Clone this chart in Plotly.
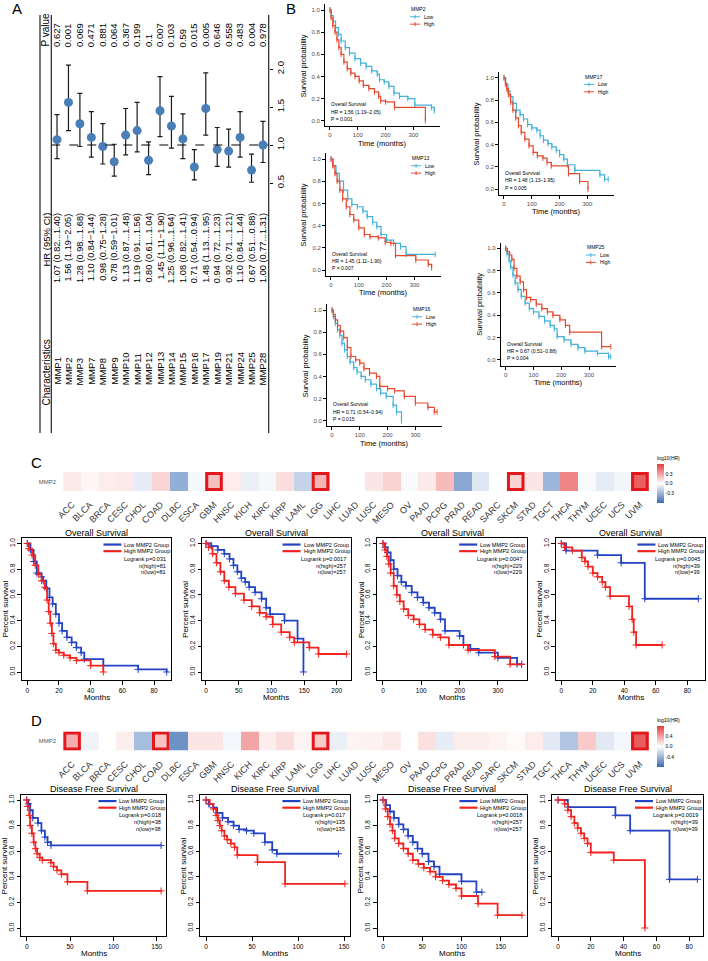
import plotly.graph_objects as go

W, H = 708, 961
FONT = "Liberation Sans, Arial, sans-serif"

# ---------------------------------------------------------------
# Panel A: univariate Cox forest plot (drawn rotated)
# ---------------------------------------------------------------
genes = ["MMP1", "MMP2", "MMP3", "MMP7", "MMP8", "MMP9", "MMP10", "MMP11", "MMP12", "MMP13",
         "MMP14", "MMP15", "MMP16", "MMP17", "MMP19", "MMP21", "MMP24", "MMP25", "MMP28"]
hr = [1.07, 1.56, 1.28, 1.10, 0.98, 0.78, 1.13, 1.19, 0.80, 1.45,
      1.25, 1.08, 0.71, 1.48, 0.94, 0.92, 1.10, 0.67, 1.00]
hr_lo = [0.82, 1.19, 0.98, 0.84, 0.75, 0.59, 0.87, 0.91, 0.61, 1.11,
         0.96, 0.82, 0.54, 1.13, 0.72, 0.71, 0.84, 0.51, 0.77]
hr_hi = [1.40, 2.05, 1.68, 1.44, 1.28, 1.01, 1.48, 1.56, 1.04, 1.90,
         1.64, 1.41, 0.94, 1.95, 1.23, 1.21, 1.44, 0.88, 1.31]
ci_sep = ["...", "−", "...", "−", "−", "−", "...", "...", "...", "−",
          "...", "...", "...", "...", "...", "...", "...", "...", "..."]
p_values = ["0.627", "0.001", "0.069", "0.471", "0.881", "0.064", "0.367", "0.199", "0.1", "0.007",
            "0.103", "0.59", "0.015", "0.005", "0.646", "0.558", "0.483", "0.004", "0.978"]
hr_ticks = [0.5, 1.0, 1.5, 2.0]

# ---------------------------------------------------------------
# Panel B: KM curves (months, survival probability)
# ---------------------------------------------------------------
mmp2_low_t = [0, 5, 12, 20, 30, 40, 55, 70, 90, 110, 130, 150, 170, 178, 195, 212, 230, 250, 280, 305, 365, 375]
mmp2_low_s = [1.0, 0.95, 0.90, 0.84, 0.78, 0.72, 0.66, 0.61, 0.56, 0.52, 0.49, 0.45, 0.42, 0.37, 0.35, 0.31, 0.25, 0.22, 0.20, 0.14, 0.12, 0.09]
mmp2_high_t = [0, 4, 10, 18, 25, 32, 40, 50, 62, 75, 90, 105, 120, 140, 160, 175, 182, 200, 232, 343]
mmp2_high_s = [1.0, 0.93, 0.86, 0.80, 0.73, 0.66, 0.60, 0.53, 0.47, 0.43, 0.40, 0.36, 0.32, 0.29, 0.26, 0.22, 0.18, 0.17, 0.12, 0.0]

mmp13_low_t = [0, 8, 18, 30, 45, 60, 75, 95, 115, 130, 150, 165, 180, 200, 225, 250, 270, 375]
mmp13_low_s = [1.0, 0.94, 0.87, 0.80, 0.72, 0.64, 0.59, 0.57, 0.53, 0.48, 0.43, 0.39, 0.32, 0.27, 0.24, 0.21, 0.14, 0.14]
mmp13_high_t = [0, 6, 14, 22, 32, 42, 55, 68, 82, 100, 120, 140, 170, 195, 215, 232, 305, 350, 362]
mmp13_high_s = [1.0, 0.94, 0.87, 0.80, 0.72, 0.64, 0.57, 0.50, 0.45, 0.38, 0.32, 0.30, 0.29, 0.25, 0.24, 0.13, 0.09, 0.05, 0.02]

mmp16_low_t = [0, 5, 12, 20, 28, 36, 45, 55, 65, 78, 90, 105, 120, 140, 160, 175, 195, 220, 232, 250]
mmp16_low_s = [1.0, 0.94, 0.88, 0.82, 0.77, 0.70, 0.64, 0.58, 0.53, 0.48, 0.44, 0.40, 0.37, 0.33, 0.29, 0.25, 0.22, 0.14, 0.08, 0.0]
mmp16_high_t = [0, 5, 12, 20, 30, 42, 55, 68, 85, 100, 115, 135, 160, 172, 200, 225, 260, 300, 345, 368, 378]
mmp16_high_s = [1.0, 0.96, 0.91, 0.86, 0.81, 0.75, 0.66, 0.58, 0.55, 0.52, 0.47, 0.43, 0.40, 0.31, 0.29, 0.27, 0.22, 0.16, 0.12, 0.08, 0.08]

mmp17_low_t = [0, 6, 14, 22, 32, 45, 58, 70, 85, 100, 118, 130, 142, 158, 172, 188, 200, 215, 228, 255, 345, 362, 375]
mmp17_low_s = [1.0, 0.94, 0.88, 0.83, 0.77, 0.71, 0.67, 0.63, 0.58, 0.55, 0.53, 0.48, 0.44, 0.41, 0.38, 0.35, 0.31, 0.27, 0.22, 0.17, 0.13, 0.09, 0.09]
mmp17_high_t = [0, 5, 10, 16, 24, 32, 42, 52, 62, 75, 90, 105, 120, 140, 155, 170, 232, 272, 302]
mmp17_high_s = [1.0, 0.95, 0.90, 0.85, 0.78, 0.71, 0.64, 0.57, 0.51, 0.45, 0.39, 0.33, 0.30, 0.28, 0.24, 0.21, 0.14, 0.07, 0.0]

mmp25_low_t = [0, 5, 12, 18, 26, 34, 44, 56, 70, 85, 100, 120, 140, 160, 175, 185, 210, 235, 260, 285, 330, 370, 378]
mmp25_low_s = [1.0, 0.95, 0.89, 0.83, 0.76, 0.69, 0.63, 0.57, 0.51, 0.46, 0.43, 0.39, 0.35, 0.31, 0.28, 0.21, 0.18, 0.14, 0.11, 0.08, 0.06, 0.03, 0.03]
mmp25_high_t = [0, 6, 14, 22, 30, 40, 52, 64, 75, 90, 110, 130, 150, 170, 195, 215, 230, 345, 378]
mmp25_high_s = [1.0, 0.97, 0.94, 0.90, 0.82, 0.75, 0.70, 0.63, 0.56, 0.54, 0.50, 0.46, 0.43, 0.40, 0.36, 0.31, 0.25, 0.12, 0.12]

# ---------------------------------------------------------------
# Panels C / D: pan-cancer heatmaps of log10(HR) for MMP2
# ---------------------------------------------------------------
cancers = ["ACC", "BLCA", "BRCA", "CESC", "CHOL", "COAD", "DLBC", "ESCA", "GBM", "HNSC", "KICH",
           "KIRC", "KIRP", "LAML", "LGG", "LIHC", "LUAD", "LUSC", "MESO", "OV", "PAAD", "PCPG",
           "PRAD", "READ", "SARC", "SKCM", "STAD", "TGCT", "THCA", "THYM", "UCEC", "UCS", "UVM"]
os_log10hr = [0.07, 0.03, 0.06, 0.07, -0.08, 0.13, -0.33, -0.03, 0.20, 0.06, -0.06,
              -0.03, 0.10, -0.18, 0.24, 0.0, 0.0, 0.08, 0.14, -0.02, 0.07, 0.21,
              -0.36, -0.10, 0.0, 0.14, 0.08, -0.30, 0.38, -0.02, -0.08, -0.04, 0.50]
dfs_log10hr = [0.34, -0.06, 0.0, 0.07, -0.36, 0.25, -0.60, 0.11, 0.11, -0.05, 0.38,
               0.07, 0.14, 0.05, 0.22, -0.08, 0.05, 0.06, 0.09, 0.0, 0.13, -0.10,
               0.07, 0.07, 0.05, 0.02, 0.08, -0.12, -0.32, 0.22, -0.12, -0.05, 0.68]
os_significant = ["GBM", "LGG", "SKCM", "UVM"]
dfs_significant = ["ACC", "COAD", "LGG", "UVM"]

# GEPIA overall survival curves (C)
os_gbm_low_t = [0, 2, 4, 6, 9, 10, 12, 14, 16, 18, 20, 22, 25, 28, 31, 34, 36, 48, 70, 88]
os_gbm_low_s = [1.0, 0.95, 0.86, 0.77, 0.74, 0.71, 0.65, 0.58, 0.53, 0.45, 0.38, 0.32, 0.27, 0.23, 0.19, 0.15, 0.10, 0.05, 0.02, 0.0]
os_gbm_high_t = [0, 1, 3, 5, 7, 9, 11, 12.5, 13.5, 14.5, 15.5, 16.5, 18, 20, 23, 27, 31, 40, 48]
os_gbm_high_s = [1.0, 0.96, 0.91, 0.83, 0.76, 0.71, 0.66, 0.56, 0.47, 0.38, 0.30, 0.22, 0.17, 0.15, 0.13, 0.11, 0.09, 0.05, 0.0]

os_lgg_low_t = [0, 8, 18, 28, 36, 42, 48, 54, 60, 66, 75, 85, 92, 98, 120, 140, 149]
os_lgg_low_s = [1.0, 0.98, 0.95, 0.92, 0.88, 0.83, 0.78, 0.73, 0.70, 0.66, 0.62, 0.57, 0.50, 0.45, 0.40, 0.26, 0.0]
os_lgg_high_t = [0, 4, 10, 16, 22, 28, 35, 45, 58, 70, 82, 92, 102, 115, 128, 135, 158, 172, 215]
os_lgg_high_s = [1.0, 0.97, 0.92, 0.85, 0.78, 0.71, 0.66, 0.61, 0.56, 0.51, 0.46, 0.43, 0.37, 0.31, 0.27, 0.23, 0.19, 0.14, 0.14]

os_skcm_low_t = [0, 6, 12, 20, 28, 38, 48, 60, 75, 90, 105, 120, 135, 150, 162, 200, 210, 228, 250, 300, 350, 362]
os_skcm_low_s = [1.0, 0.97, 0.93, 0.87, 0.80, 0.75, 0.70, 0.67, 0.62, 0.58, 0.54, 0.50, 0.46, 0.41, 0.32, 0.28, 0.21, 0.18, 0.15, 0.11, 0.06, 0.06]
os_skcm_high_t = [0, 5, 10, 15, 20, 28, 36, 44, 54, 66, 80, 95, 110, 130, 150, 172, 222, 292, 332, 362]
os_skcm_high_s = [1.0, 0.95, 0.90, 0.84, 0.77, 0.67, 0.60, 0.55, 0.49, 0.44, 0.41, 0.37, 0.33, 0.29, 0.27, 0.21, 0.17, 0.12, 0.06, 0.06]

os_uvm_low_t = [0, 3, 23, 38, 53, 87]
os_uvm_low_s = [1.0, 0.945, 0.91, 0.85, 0.57, 0.57]
os_uvm_high_t = [0, 2, 7, 13, 15, 17, 20, 23, 26, 28, 31, 43, 45, 46, 47.5, 64]
os_uvm_high_s = [1.0, 0.97, 0.945, 0.89, 0.86, 0.82, 0.77, 0.74, 0.70, 0.66, 0.59, 0.51, 0.41, 0.31, 0.21, 0.21]

# GEPIA disease free survival curves (D)
dfs_acc_low_t = [0, 2, 4, 7, 13, 17, 21, 24, 28, 155]
dfs_acc_low_s = [1.0, 0.97, 0.92, 0.86, 0.82, 0.76, 0.71, 0.67, 0.645, 0.645]
dfs_acc_high_t = [0, 1, 3, 4, 6, 8, 10, 12, 15, 18, 28, 31, 35, 40, 47, 70, 155]
dfs_acc_high_s = [1.0, 0.95, 0.88, 0.80, 0.74, 0.67, 0.62, 0.58, 0.55, 0.53, 0.51, 0.48, 0.45, 0.42, 0.36, 0.29, 0.29]

dfs_coad_low_t = [0, 3, 8, 12, 18, 24, 30, 36, 44, 52, 64, 72, 77, 144]
dfs_coad_low_s = [1.0, 0.97, 0.94, 0.90, 0.86, 0.83, 0.80, 0.77, 0.76, 0.74, 0.67, 0.61, 0.58, 0.58]
dfs_coad_high_t = [0, 4, 8, 11, 13, 15, 17, 20, 23, 27, 31, 34, 56, 86, 151]
dfs_coad_high_s = [1.0, 0.97, 0.93, 0.88, 0.84, 0.80, 0.76, 0.72, 0.69, 0.66, 0.63, 0.57, 0.515, 0.345, 0.345]

dfs_lgg_low_t = [0, 4, 9, 14, 20, 26, 32, 38, 44, 50, 58, 65, 72, 100, 119, 126]
dfs_lgg_low_s = [1.0, 0.96, 0.91, 0.86, 0.81, 0.77, 0.72, 0.67, 0.62, 0.58, 0.52, 0.48, 0.42, 0.365, 0.28, 0.28]
dfs_lgg_high_t = [0, 3, 6, 9, 12, 15, 20, 26, 32, 38, 45, 52, 60, 67, 76, 84, 93, 100, 121, 146, 177]
dfs_lgg_high_s = [1.0, 0.93, 0.87, 0.81, 0.76, 0.70, 0.66, 0.62, 0.58, 0.53, 0.50, 0.47, 0.44, 0.40, 0.37, 0.34, 0.31, 0.25, 0.19, 0.10, 0.10]

dfs_uvm_low_t = [0, 6, 35, 44, 68, 85]
dfs_uvm_low_s = [1.0, 0.945, 0.88, 0.76, 0.38, 0.38]
dfs_uvm_high_t = [0, 4, 6, 8, 10, 12, 14, 16, 18, 20, 34, 53]
dfs_uvm_high_s = [1.0, 0.97, 0.92, 0.87, 0.82, 0.78, 0.74, 0.70, 0.66, 0.59, 0.53, 0.0]


# ---------------------------------------------------------------
# helpers (positions in pixels of the 708x961 page)
# ---------------------------------------------------------------
layout = dict(width=W, height=H, margin=dict(l=0, r=0, t=0, b=0), template="none",
              paper_bgcolor="white", plot_bgcolor="rgba(0,0,0,0)", showlegend=False,
              font=dict(family=FONT, color="black"))
annotations = []
shapes = []
traces = []
n_axes = [0]


def new_axes(left, top, right, bottom, xr, yr, xstyle=None, ystyle=None):
    n_axes[0] += 1
    s = "" if n_axes[0] == 1 else str(n_axes[0])
    xa = dict(domain=[left / W, right / W], range=xr, anchor="y" + s, showgrid=False,
              zeroline=False, automargin=False)
    ya = dict(domain=[1 - bottom / H, 1 - top / H], range=yr, anchor="x" + s, showgrid=False,
              zeroline=False, automargin=False)
    xa.update(xstyle or {})
    ya.update(ystyle or {})
    layout["xaxis" + s] = xa
    layout["yaxis" + s] = ya
    return "x" + s, "y" + s


def label(x, y, txt, size, xanchor="left", yanchor="middle", angle=0, color="black",
          xref="paper", yref="paper"):
    annotations.append(dict(
        x=x / W if xref == "paper" else x, y=1 - y / H if yref == "paper" else y,
        xref=xref, yref=yref, text=txt, showarrow=False, xanchor=xanchor, yanchor=yanchor,
        textangle=angle, borderpad=0, font=dict(size=size, color=color, family=FONT)))


def seg(x0, y0, x1, y1, color, width, dash=None):
    shapes.append(dict(type="line", xref="paper", yref="paper", x0=x0 / W, x1=x1 / W,
                       y0=1 - y0 / H, y1=1 - y1 / H, line=dict(color=color, width=width, dash=dash)))


# ---------------------------------------------------------------
# A) forest plot
# ---------------------------------------------------------------
fx, fy = new_axes(51.3, 40, 268.7, 205, [-0.5, len(genes) - 0.5], [0.2105, 2.3816],
                  dict(visible=False),
                  dict(side="right", tickvals=hr_ticks, ticktext=["%.1f" % v for v in hr_ticks],
                       ticks="outside", ticklen=3, tickcolor="black", tickangle=-90,
                       tickfont=dict(size=9.5), showline=False))
traces.append(go.Scatter(
    x=list(range(len(genes))), y=hr, xaxis=fx, yaxis=fy, mode="markers",
    marker=dict(color="#4A7EB6", size=9),
    error_y=dict(type="data", symmetric=False,
                 array=[h - m for h, m in zip(hr_hi, hr)],
                 arrayminus=[m - l for m, l in zip(hr, hr_lo)],
                 color="#1a1a1a", thickness=1.2, width=2.5)))
shapes.append(dict(type="line", xref=fx + " domain", yref=fy, x0=0, x1=1, y0=1, y1=1,
                   line=dict(color="black", width=1.1, dash="dash")))
for xline in (40, 51.3, 268.7):
    seg(xline, 15, xline, 433, "#222", 1.2)

label(45.5, 48, "P value", 10, "center", "bottom", -90)
label(45.5, 212, "HR (95% CI)", 9.5, "center", "top", -90)
label(45.5, 407, "Characteristics", 10, "center", "bottom", -90)
for i, g in enumerate(genes):
    label(i, 48, p_values[i], 9.5, "center", "bottom", -90, xref=fx)
    ci = "%.2f (%.2f%s%.2f)" % (hr[i], hr_lo[i], ci_sep[i], hr_hi[i])
    label(i, 212, ci, 9.2, "center", "top", -90, xref=fx)
    label(i, 386, g, 9.5, "center", "bottom", -90, xref=fx)

# ---------------------------------------------------------------
# B) ggplot style KM plots
# ---------------------------------------------------------------
B_LOW, B_HIGH = "#41B2D9", "#E84A30"


def km_ggplot(x0, y1, y0, gene, low_t, low_s, high_t, high_s, hr_txt, p_txt):
    sx, sy = 0.278, y0 - y1
    xr, yr = [-18, 396], [-0.05, 1.05]
    left, right = x0 + xr[0] * sx, x0 + xr[1] * sx
    top, bottom = y0 - yr[1] * sy, y0 - yr[0] * sy
    st = dict(showline=True, linecolor="black", linewidth=1, ticks="outside", ticklen=3,
              tickcolor="black", tickfont=dict(size=6, color="#4d4d4d"))
    xa, ya = new_axes(left, top, right, bottom, xr, yr,
                      dict(st, tickvals=[0, 100, 200, 300]),
                      dict(st, tickvals=[0, 0.2, 0.4, 0.6, 0.8, 1.0],
                           ticktext=["0.0", "0.2", "0.4", "0.6", "0.8", "1.0"]))
    for t, s, c in ((low_t, low_s, B_LOW), (high_t, high_s, B_HIGH)):
        traces.append(go.Scatter(x=t, y=s, xaxis=xa, yaxis=ya, mode="lines+markers",
                                 line=dict(color=c, width=1.2, shape="hv"),
                                 marker=dict(symbol="line-ns", size=4, color=c,
                                             line=dict(color=c, width=1))))
    label(left - 22, (top + bottom) / 2, "Survival probability", 7.5, "center", "middle", -90)
    label((left + right) / 2, bottom + 17, "Time (months)", 7.5, "center", "middle")
    lx = right - 30
    label(lx, top + 4.6, gene, 5)
    for k, (lab, c) in enumerate((("Low", B_LOW), ("High", B_HIGH))):
        yy = top + 12.3 + 7.4 * k
        seg(lx, yy, lx + 10, yy, c, 1)
        seg(lx + 5, yy - 2, lx + 5, yy + 2, c, 1)
        label(lx + 13, yy, lab, 5)
    for k, s in enumerate(("Overall Survival", hr_txt, p_txt)):
        label(x0, y0 - 16.4 + 7.3 * k, s, 5)


km_ggplot(330, 10, 120.7, "MMP2", mmp2_low_t, mmp2_low_s, mmp2_high_t, mmp2_high_s,
          "HR = 1.56 (1.19−2.05)", "P = 0.001")
km_ggplot(331, 159, 270, "MMP13", mmp13_low_t, mmp13_low_s, mmp13_high_t, mmp13_high_s,
          "HR = 1.45 (1.11−1.90)", "P = 0.007")
km_ggplot(332, 310, 420.7, "MMP16", mmp16_low_t, mmp16_low_s, mmp16_high_t, mmp16_high_s,
          "HR = 0.71 (0.54−0.94)", "P = 0.015")
km_ggplot(504, 77.7, 189.3, "MMP17", mmp17_low_t, mmp17_low_s, mmp17_high_t, mmp17_high_s,
          "HR = 1.48 (1.13−1.95)", "P = 0.005")
km_ggplot(505.7, 248.3, 360, "MMP25", mmp25_low_t, mmp25_low_s, mmp25_high_t, mmp25_high_s,
          "HR = 0.67 (0.51−0.88)", "P = 0.004")

# ---------------------------------------------------------------
# C / D) heatmaps
# ---------------------------------------------------------------
HEAT_SCALE = [[0, "#3B6DB3"], [0.5, "#FFFFFF"], [1, "#E5403F"]]


def heat(top, z, zmax, tick, significant, cb_top, cb_bottom):
    xa, ya = new_axes(63.2, top, 648.8, top + 19, [-0.5, len(cancers) - 0.5], [-0.5, 0.5],
                      dict(tickvals=list(range(len(cancers))), ticktext=cancers, tickangle=-45,
                           ticks="outside", ticklen=4, tickcolor="rgba(0,0,0,0)",
                           tickfont=dict(size=9, color="#333")),
                      dict(tickvals=[0], ticktext=["MMP2"], ticks="outside", ticklen=5,
                           tickcolor="rgba(0,0,0,0)", tickfont=dict(size=6, color="#555")))
    traces.append(go.Heatmap(
        z=[z], x=list(range(len(cancers))), y=[0], xaxis=xa, yaxis=ya,
        colorscale=HEAT_SCALE, zmin=-zmax, zmax=zmax,
        colorbar=dict(x=657 / W, xanchor="left", xpad=0, ypad=0,
                      y=1 - cb_bottom / H, yanchor="bottom", len=(cb_bottom - cb_top) / H,
                      thickness=7, outlinewidth=0, ticks="", tickvals=[-tick, 0, tick],
                      ticktext=["%.1f" % -tick, "0.0", "%.1f" % tick],
                      tickfont=dict(size=5),
                      title=dict(text="log10(HR)", side="top", font=dict(size=5)))))
    for name in significant:
        i = cancers.index(name)
        shapes.append(dict(type="rect", xref=xa, yref=ya, x0=i - 0.41, x1=i + 0.41,
                           y0=-0.42, y1=0.42, line=dict(color="#E3181C", width=3)))


heat(472, os_log10hr, 0.6, 0.3, os_significant, 453, 503)
heat(731.5, dfs_log10hr, 0.8, 0.4, dfs_significant, 715, 767)

# ---------------------------------------------------------------
# C / D) GEPIA style KM plots
# ---------------------------------------------------------------
G_LOW, G_HIGH = "#2443C4", "#F2231F"


def km_gepia(x0, sx, xr, xticks, y1, y0, title, curves, stats):
    sy = y0 - y1
    yr = [-0.065, 1.04]
    left, right = x0 + xr[0] * sx, x0 + xr[1] * sx
    top, bottom = y0 - yr[1] * sy, y0 - yr[0] * sy
    st = dict(showline=True, mirror=True, linecolor="black", linewidth=1, ticks="outside",
              ticklen=3.5, tickcolor="black", tickfont=dict(size=6.5))
    xa, ya = new_axes(left, top, right, bottom, xr, yr,
                      dict(st, tickvals=xticks),
                      dict(st, tickvals=[0, 0.2, 0.4, 0.6, 0.8, 1.0], tickangle=-90,
                           ticktext=["0.0", "0.2", "0.4", "0.6", "0.8", "1.0"]))
    low_t, low_s, high_t, high_s = curves
    for t, s, c in ((low_t, low_s, G_LOW), (high_t, high_s, G_HIGH)):
        traces.append(go.Scatter(x=t, y=s, xaxis=xa, yaxis=ya, mode="lines+markers",
                                 line=dict(color=c, width=1.8, shape="hv"),
                                 marker=dict(symbol="cross-thin", size=5, color=c,
                                             line=dict(color=c, width=1))))
    label((left + right) / 2, top - 5.5, title, 9, "center", "middle")
    label(left - 16.5, (top + bottom) / 2, "Percent survival", 8, "center", "middle", -90)
    label((left + right) / 2, bottom + 17, "Months", 8, "center", "middle")
    for k, (lab, c) in enumerate((("Low MMP2 Group", G_LOW), ("High MMP2 Group", G_HIGH))):
        yy = top + 6.2 + 6.6 * k
        seg(right - 68, yy, right - 50, yy, c, 2.2)
        label(right - 48, yy, lab, 5.6)
    for k, s in enumerate(stats):
        label(right - 4, top + 20.5 + 6.7 * k, s, 5.6, "right")


km_gepia(27.3, 1.584, [-3.5, 91], [0, 20, 40, 60, 80], 543.5, 672, "Overall Survival",
         (os_gbm_low_t, os_gbm_low_s, os_gbm_high_t, os_gbm_high_s),
         ("Logrank p=0.031", "n(high)=81", "n(low)=81"))
km_gepia(206, 0.654, [-6, 221], [0, 50, 100, 150, 200], 543.5, 672, "Overall Survival",
         (os_lgg_low_t, os_lgg_low_s, os_lgg_high_t, os_lgg_high_s),
         ("Logrank p=0.0017", "n(high)=257", "n(low)=257"))
km_gepia(383, 0.383, [-14.5, 376.5], [0, 100, 200, 300], 543.5, 672, "Overall Survival",
         (os_skcm_low_t, os_skcm_low_s, os_skcm_high_t, os_skcm_high_s),
         ("Logrank p=0.0047", "n(high)=229", "n(low)=229"))
km_gepia(561.3, 1.575, [-3.5, 91.5], [0, 20, 40, 60, 80], 543.5, 672, "Overall Survival",
         (os_uvm_low_t, os_uvm_low_s, os_uvm_high_t, os_uvm_high_s),
         ("Logrank p=0.0045", "n(high)=39", "n(low)=39"))

km_gepia(26.7, 0.867, [-6.2, 161.2], [0, 50, 100, 150], 800, 928, "Disease Free Survival",
         (dfs_acc_low_t, dfs_acc_low_s, dfs_acc_high_t, dfs_acc_high_s),
         ("Logrank p=0.018", "n(high)=38", "n(low)=38"))
km_gepia(206, 0.92, [-6, 157], [0, 50, 100, 150], 800, 928, "Disease Free Survival",
         (dfs_coad_low_t, dfs_coad_low_s, dfs_coad_high_t, dfs_coad_high_s),
         ("Logrank p=0.017", "n(high)=135", "n(low)=135"))
km_gepia(383, 0.785, [-7, 184], [0, 50, 100, 150], 800, 928, "Disease Free Survival",
         (dfs_lgg_low_t, dfs_lgg_low_s, dfs_lgg_high_t, dfs_lgg_high_s),
         ("Logrank p=0.0018", "n(high)=257", "n(low)=257"))
km_gepia(558, 1.64, [-3.4, 88.4], [0, 20, 40, 60, 80], 800, 928, "Disease Free Survival",
         (dfs_uvm_low_t, dfs_uvm_low_s, dfs_uvm_high_t, dfs_uvm_high_s),
         ("Logrank p=0.0019", "n(high)=39", "n(low)=39"))

# panel letters
for letter, lx, ly in (("A", 17, 9), ("B", 291, 9), ("C", 36, 463), ("D", 36, 720)):
    label(lx, ly, letter, 15, "center", "middle")

layout["annotations"] = annotations
layout["shapes"] = shapes
fig = go.Figure(data=traces, layout=layout)
# the page body has a default 8px margin; drop it so the figure fills the window exactly
fig.write_html("out.html", config={"displayModeBar": False},
               post_script="document.body.style.margin='0';document.body.style.overflow='hidden';")
